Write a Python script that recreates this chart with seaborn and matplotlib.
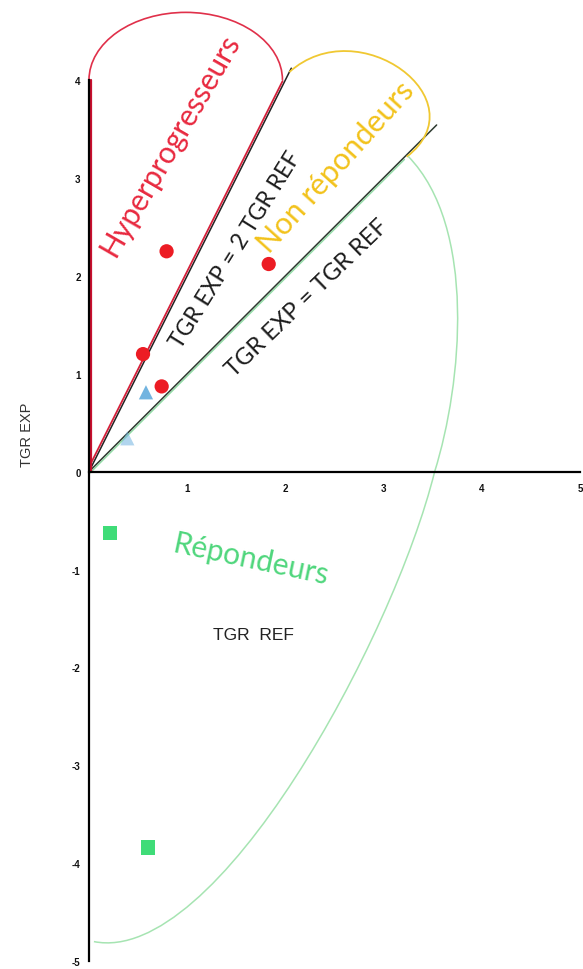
import numpy as np
import pandas as pd
import matplotlib
matplotlib.use("Agg")
import matplotlib.pyplot as plt
import matplotlib.transforms as mtrans
import seaborn as sns
from matplotlib.patches import Arc, PathPatch
from matplotlib.path import Path

# ---------------- data ----------------
ref_hyper = [0.79, 1.83, 0.55, 0.74]
exp_hyper = [2.25, 2.12, 1.20, 0.87]
ref_nonrep = [0.58, 0.39]
exp_nonrep = [0.81, 0.34]
ref_rep = [0.21, 0.60]
exp_rep = [-0.63, -3.84]
groups = ["Hyperprogresseurs", "Non répondeurs", "Répondeurs"]
x_ticks = [1, 2, 3, 4, 5]
y_ticks = [-5, -4, -3, -2, -1, 0, 1, 2, 3, 4]
line_1x_end = 3.54   # TGR EXP = TGR REF
line_2x_end = 2.06   # TGR EXP = 2 TGR REF

# ---------------- style ----------------
sns.set_theme(style="white")
plt.rcParams["font.family"] = ["Liberation Sans", "DejaVu Sans"]
plt.rcParams["axes.unicode_minus"] = False

W, H = 583, 970
fig = plt.figure(figsize=(W / 100, H / 100), dpi=100)
left, right = 89 / W, 580 / W
ax = fig.add_axes([left, 0.0, right - left, 1 - 7.5 / H])
ax.set_xlim(0, 5)
ax.set_ylim(-5.08, 4.75)
ax.set_facecolor("white")

for sp in ["top", "right"]:
    ax.spines[sp].set_visible(False)
ax.spines["left"].set_position(("data", 0))
ax.spines["left"].set_bounds(-5, 4)
ax.spines["bottom"].set_position(("data", 0))
ax.spines["bottom"].set_bounds(0, 5)
for sp in ["left", "bottom"]:
    ax.spines[sp].set_color("black")
    ax.spines[sp].set_linewidth(1.6)
    ax.spines[sp].set_zorder(3)

ax.set_xticks(x_ticks)
ax.set_yticks(y_ticks)
ax.set_xticklabels([str(v) for v in x_ticks])
ax.set_yticklabels([str(v) for v in y_ticks])
ax.tick_params(axis="both", direction="out", length=4, width=1.3, color="black",
               labelsize=7, pad=2, labelcolor="#111111")
ax.tick_params(axis="x", pad=4)
for lab in ax.get_xticklabels() + ax.get_yticklabels():
    lab.set_fontweight("bold")

# ---------------- reference lines ----------------
x1 = np.array([0, line_1x_end])
x2 = np.array([0, line_2x_end])
off_red = mtrans.offset_copy(ax.transData, fig=fig, x=-1.8, y=0.9, units="dots")
off_green = mtrans.offset_copy(ax.transData, fig=fig, x=1.2, y=-1.2, units="dots")
off_axis = mtrans.offset_copy(ax.transData, fig=fig, x=1.6, y=0, units="dots")

ax.plot(x1[:1].tolist() + [3.2], [0, 3.2], color="#8fdca4", lw=1.0, transform=off_green, zorder=2)
ax.plot(x1, x1, color="#2e3a30", lw=1.1, zorder=2)
ax.plot(x2, 2 * x2, color="#222222", lw=1.1, zorder=2)
ax.plot([0, 1.99], [0, 3.98], color="#d4203a", lw=1.3, transform=off_red, zorder=2)
ax.plot([0, 0], [0, 4], color="#c8102e", lw=1.6, transform=off_axis, zorder=2, clip_on=False)

# ---------------- region outlines ----------------
ax.add_patch(Arc((0.985, 4.0), 1.97, 1.38, theta1=0, theta2=180,
                 color="#e0304a", lw=1.2, clip_on=False, zorder=2))

yel = Path([(2.04, 4.08), (2.746, 4.716), (3.987, 3.795), (3.235, 3.215)],
           [Path.MOVETO, Path.CURVE4, Path.CURVE4, Path.CURVE4])
ax.add_patch(PathPatch(yel, fill=False, edgecolor="#f0c832", lw=1.3, zorder=2))

grn = Path([(3.25, 3.22), (3.95, 2.5), (3.80, 0.9), (3.52, 0.0),
            (3.1, -1.7), (1.3, -5.05), (0.05, -4.8)],
           [Path.MOVETO, Path.CURVE4, Path.CURVE4, Path.CURVE4,
            Path.CURVE4, Path.CURVE4, Path.CURVE4])
ax.add_patch(PathPatch(grn, fill=False, edgecolor="#a6e4b2", lw=1.1, zorder=2))

# ---------------- points ----------------
df = pd.DataFrame({
    "ref": ref_hyper + ref_nonrep + ref_rep,
    "exp": exp_hyper + exp_nonrep + exp_rep,
    "group": [groups[0]] * len(ref_hyper) + [groups[1]] * len(ref_nonrep) + [groups[2]] * len(ref_rep),
})
palette = {groups[0]: "#ec1c24", groups[1]: "#72b4e0", groups[2]: "#3fdc78"}
markers = {groups[0]: "o", groups[1]: "^", groups[2]: "s"}
sns.scatterplot(data=df, x="ref", y="exp", hue="group", style="group",
                palette=palette, markers=markers, s=105, edgecolor="none",
                legend=False, ax=ax, zorder=5)
coll = ax.collections[-1]
fc = coll.get_facecolors()
if len(fc) == len(df):
    fc[5, 3] = 0.55
    coll.set_facecolors(fc)
ax.set_xlabel("")
ax.set_ylabel("")

# ---------------- texts ----------------
renderer = fig.canvas.get_renderer()


def fit_text(xp, yp, s, target, rot, **kw):
    t = fig.text(xp / W, 1 - yp / H, s, ha="center", va="center", rotation=0, **kw)
    w = t.get_window_extent(renderer).width
    t.set_fontsize(t.get_fontsize() * target / w)
    t.set_rotation(rot)
    t.set_rotation_mode("anchor")
    return t


cal = ["Lato", "DejaVu Sans"]
fit_text(170, 145, "Hyperprogresseurs", 252, 60, color="#e8293f", family=cal, fontsize=20)
fit_text(236, 250, "TGR EXP = 2 TGR REF", 226, 58, color="#1c1c1c", family=cal, fontsize=15)
fit_text(336, 167, "Non répondeurs", 220, 48, color="#f2c21b", family=cal, fontsize=20)
fit_text(307, 298, "TGR EXP = TGR REF", 216, 44, color="#1c1c1c", family=cal, fontsize=15)
fit_text(251, 560, "Répondeurs", 158, -12, color="#4fd67c", family=cal, fontsize=17)

fig.text(253 / W, 1 - 636 / H, "TGR  REF", ha="center", va="center",
         fontsize=12.5, color="#222222")
fig.text(27 / W, 1 - 435 / H, "TGR EXP", ha="center", va="center", rotation=90,
         fontsize=10.5, color="#333333")

fig.savefig("out.png", dpi=100, facecolor="white")
